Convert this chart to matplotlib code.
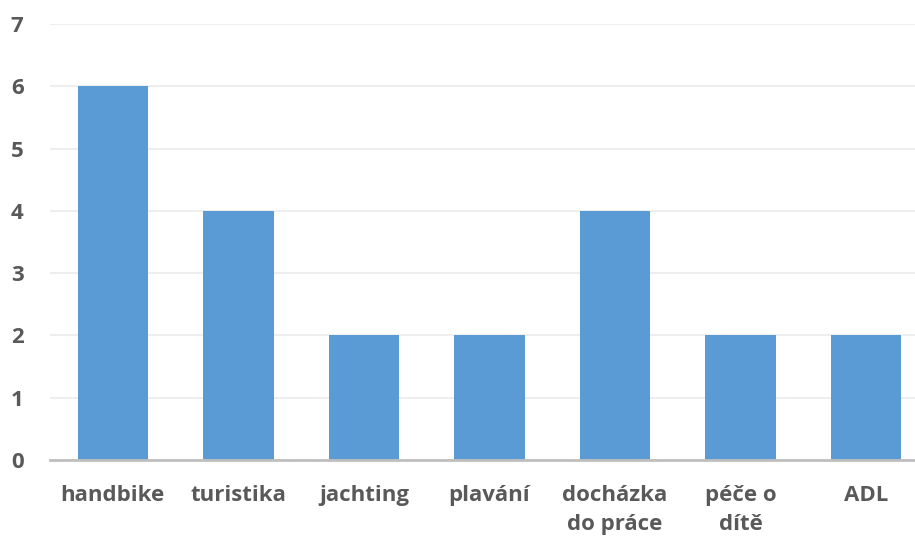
import matplotlib
matplotlib.use("Agg")
from matplotlib import pyplot as plt
import numpy as np

categories = ["handbike", "turistika", "jachting", "plavání",
              "docházka\ndo práce", "péče o\ndítě", "ADL"]
values = [6, 4, 2, 2, 4, 2, 2]

plt.rcParams['font.family'] = ['Open Sans', 'DejaVu Sans']

fig = plt.figure(figsize=(9.15, 5.41), dpi=100)
# plot area runs a little past the right edge, like the original
ax = fig.add_axes([50 / 915, 1 - 460 / 541, 879 / 915, 436 / 541])

ind = np.arange(len(categories))
ax.bar(ind, values, width=0.56, color="#5B9BD5", zorder=3)

ax.set_xlim(-0.5, len(categories) - 0.5)
ax.set_ylim(0, 7)
ax.set_yticks(range(0, 8))
ax.yaxis.grid(True, color="#EDEDED", linewidth=1.3, zorder=0)

for side in ("top", "right", "left"):
    ax.spines[side].set_visible(False)
ax.spines["bottom"].set_color("#BFBFBF")
ax.spines["bottom"].set_linewidth(2)
ax.spines["bottom"].set_zorder(4)

ax.set_xticks(ind)
ax.set_xticklabels(categories, linespacing=1.5, va="top")
ax.tick_params(axis="both", length=0, labelsize=16, labelcolor="#595959")
ax.tick_params(axis="x", pad=18)
ax.tick_params(axis="y", pad=19)
for lbl in ax.get_xticklabels() + ax.get_yticklabels():
    lbl.set_fontweight("bold")

fig.savefig("out.png", dpi=100)
